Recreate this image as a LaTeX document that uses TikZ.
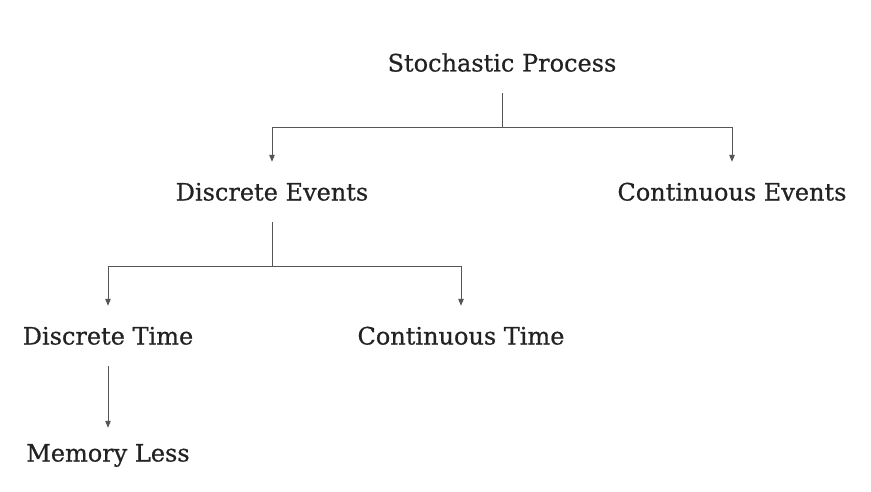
\documentclass[tikz,border=0pt]{standalone}
\usepackage{fontspec}
\setmainfont[FakeBold=0.6]{DejaVu Serif}
\usetikzlibrary{arrows.meta}
\definecolor{txt}{HTML}{222222}
\definecolor{ln}{HTML}{555555}
\tikzset{
  lbl/.style={inner sep=0pt, minimum height=60pt, text height=20pt, text depth=3pt, text=txt, font=\fontsize{24pt}{27pt}\selectfont},
  conn/.style={draw=ln, line width=1pt},
  arr/.style={conn, -{Triangle[length=7pt,width=5.5pt]}}
}
\begin{document}
\begin{tikzpicture}[x=1pt,y=-1pt]
\useasboundingbox (0,0) rectangle (871,492);
\node[lbl] (sp) at (502,63) {Stochastic Process};
\node[lbl] (de) at (272,192) {Discrete Events};
\node[lbl] (ce) at (732,192) {Continuous Events};
\node[lbl] (dt) at (108,336) {Discrete Time};
\node[lbl] (ct) at (461,336) {Continuous Time};
\node[lbl] (ml) at (108,453) {Memory Less};
\coordinate (j1) at (502,128);
\coordinate (j2) at (272,266);
\draw[conn] (sp.south) -- (j1);
\draw[arr] (j1) -| (de.north);
\draw[arr] (j1) -| (ce.north);
\draw[conn] (de.south) -- (j2);
\draw[arr] (j2) -| (dt.north);
\draw[arr] (j2) -| (ct.north);
\draw[arr] (dt.south) -- ([yshift=-5pt]ml.north);
\end{tikzpicture}
\end{document}
